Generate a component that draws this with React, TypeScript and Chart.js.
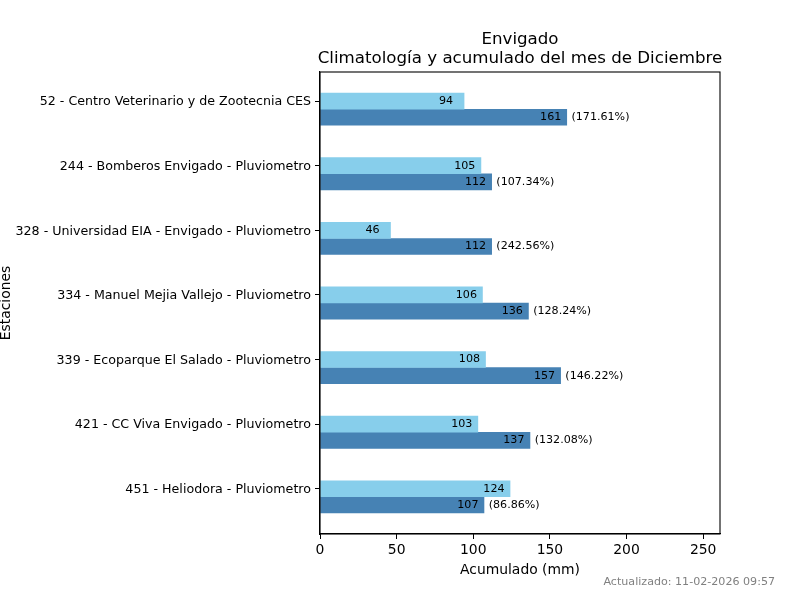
import React, { useEffect, useRef } from "react";
import { Chart, registerables } from "chart.js";

Chart.register(...registerables);

const stations = [
  "52 - Centro Veterinario y de Zootecnia CES",
  "244 - Bomberos Envigado - Pluviometro",
  "328 - Universidad EIA - Envigado - Pluviometro",
  "334 - Manuel Mejia Vallejo - Pluviometro",
  "339 - Ecoparque El Salado - Pluviometro",
  "421 - CC Viva Envigado - Pluviometro",
  "451 - Heliodora - Pluviometro",
];
const climatologia = [94, 105, 46, 106, 108, 103, 124];
const acumulado = [161, 112, 112, 136, 157, 137, 107];
const porcentajes = [
  "(171.61%)",
  "(107.34%)",
  "(242.56%)",
  "(128.24%)",
  "(146.22%)",
  "(132.08%)",
  "(86.86%)",
];
const xTicks = [0, 50, 100, 150, 200, 250];
const titleLines = ["Envigado", "Climatología y acumulado del mes de Diciembre"];
const xTitle = "Acumulado (mm)";
const yTitle = "Estaciones";
const footer = "Actualizado: 11-02-2026 09:57";

const FONT = "'DejaVu Sans', sans-serif";

export default function App() {
  const ref = useRef<HTMLCanvasElement | null>(null);

  useEffect(() => {
    if (!ref.current) return;
    const gapFor = (v: number) => (v >= 100 ? 5.5 : 11);
    const textPlugin = {
      id: "textPlugin",
      afterDatasetsDraw(chart: any) {
        const ctx = chart.ctx;
        ctx.save();
        ctx.font = `11.1px ${FONT}`;
        ctx.fillStyle = "#000";
        ctx.textBaseline = "middle";
        const m0 = chart.getDatasetMeta(0);
        const m1 = chart.getDatasetMeta(1);
        m0.data.forEach((el: any, i: number) => {
          ctx.textAlign = "right";
          ctx.fillText(String(climatologia[i]), el.x - gapFor(climatologia[i]), el.y);
        });
        m1.data.forEach((el: any, i: number) => {
          ctx.textAlign = "right";
          ctx.fillText(String(acumulado[i]), el.x - gapFor(acumulado[i]), el.y);
          ctx.textAlign = "left";
          ctx.fillText(porcentajes[i], el.x + 4.7, el.y);
        });
        ctx.restore();
      },
      afterDraw(chart: any) {
        const ctx = chart.ctx;
        const a = chart.chartArea;
        ctx.save();
        ctx.strokeStyle = "#000";
        ctx.lineWidth = 1.1;
        ctx.strokeRect(a.left, a.top, a.right - a.left, a.bottom - a.top);
        const cx = (a.left + a.right) / 2;
        ctx.fillStyle = "#000";
        ctx.textAlign = "center";
        ctx.textBaseline = "middle";
        ctx.font = `16.67px ${FONT}`;
        ctx.fillText(titleLines[0], cx, 40);
        ctx.fillText(titleLines[1], cx, 59);
        ctx.font = `13.9px ${FONT}`;
        ctx.fillText(xTitle, cx, 570);
        ctx.save();
        ctx.translate(6, (a.top + a.bottom) / 2);
        ctx.rotate(-Math.PI / 2);
        ctx.fillText(yTitle, 0, 0);
        ctx.restore();
        ctx.font = `11.1px ${FONT}`;
        ctx.fillStyle = "#808080";
        ctx.textAlign = "right";
        ctx.fillText(footer, 775, 582);
        ctx.restore();
      },
    };

    const chart = new Chart(ref.current, {
      type: "bar",
      data: {
        datasets: [
          {
            label: "Climatología",
            data: climatologia.map((v, i) => ({ x: v, y: i })),
            backgroundColor: "#87CEEB",
            barThickness: 16,
            grouped: false,
          } as any,
          {
            label: "Acumulado",
            data: acumulado.map((v, i) => ({ x: v, y: i + 0.25 })),
            backgroundColor: "#4682B4",
            barThickness: 16,
            grouped: false,
          } as any,
        ],
      },
      options: {
        indexAxis: "y",
        responsive: false,
        animation: false,
        layout: { padding: { left: 0, right: 80, top: 72, bottom: 0 } },
        plugins: {
          legend: { display: false },
          tooltip: { enabled: false },
          title: { display: false },
        },
        scales: {
          x: {
            type: "linear",
            min: 0,
            max: 261,
            offset: false,
            afterBuildTicks(scale: any) {
              scale.ticks = xTicks.map((v) => ({ value: v }));
            },
            afterFit(scale: any) {
              scale.height = 66;
            },
            grid: {
              display: true,
              offset: false,
              drawOnChartArea: false,
              drawTicks: true,
              tickLength: 5,
              color: "#000",
            },
            border: { display: true, color: "#000", width: 1.1 },
            ticks: {
              color: "#000",
              font: { family: FONT, size: 13.9 },
              padding: 3,
              maxRotation: 0,
            },
          },
          y: {
            type: "linear",
            reverse: true,
            min: -0.45,
            max: 6.7,
            offset: false,
            afterBuildTicks(scale: any) {
              scale.ticks = stations.map((_, i) => ({ value: i }));
            },
            afterFit(scale: any) {
              scale.width = 320;
            },
            grid: {
              display: true,
              offset: false,
              drawOnChartArea: false,
              drawTicks: true,
              tickLength: 5,
              color: "#000",
            },
            border: { display: true, color: "#000", width: 1.1 },
            ticks: {
              color: "#000",
              font: { family: FONT, size: 12.65 },
              padding: 4,
              labelOffset: 1,
              autoSkip: false,
              callback: (v: any) => stations[Math.round(Number(v))] ?? "",
            },
          },
        },
      } as any,
      plugins: [textPlugin],
    });
    return () => chart.destroy();
  }, []);

  return (
    <div style={{ position: "absolute", left: 0, top: 0, width: 800, height: 600, background: "#fff" }}>
      <canvas ref={ref} width={800} height={600} />
    </div>
  );
}
